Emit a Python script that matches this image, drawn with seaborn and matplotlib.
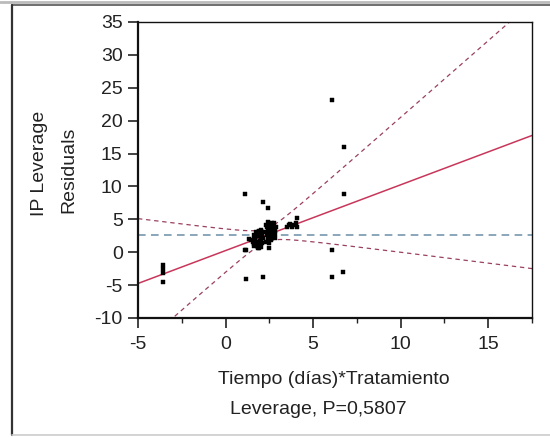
import numpy as np
import pandas as pd
import matplotlib
matplotlib.use("Agg")
import matplotlib.pyplot as plt
from matplotlib.lines import Line2D
from matplotlib.ticker import MultipleLocator
import seaborn as sns

# Leverage residual points (x: leverage of the term, y: leverage residual)
lev_x = [-3.57, -3.57, -3.57, -3.57,
         1.11, 1.34, 1.11, 1.17, 2.14, 2.43, 1.86, 2.49,
         6.09, 6.77, 6.77, 6.09, 6.09, 6.71, 1.17, 2.14,
         1.45, 1.55, 1.6, 1.65, 1.7, 1.75, 1.8, 1.85, 1.9, 1.95,
         2.0, 2.05, 2.1, 2.15, 2.2, 1.6, 1.7, 1.8, 1.9, 2.0,
         2.1, 1.75, 1.85, 1.95, 2.05, 1.65, 1.9, 2.0,
         2.3, 2.35, 2.4, 2.45, 2.5, 2.55, 2.6, 2.65, 2.7, 2.75,
         2.8, 2.85, 2.9, 2.4, 2.5, 2.6, 2.7, 2.8, 2.35, 2.45,
         2.55, 2.65, 2.75, 2.5, 2.6, 2.3, 2.45,
         3.5, 3.6, 3.7, 3.8, 3.9, 4.0, 4.09, 4.09]
lev_y = [-2.0, -2.6, -3.1, -4.5,
         8.9, 2.0, 0.3, 0.35, 7.6, 6.7, 0.65, 0.6,
         23.1, 16.0, 8.9, 0.35, -3.75, -3.0, -4.1, -3.75,
         1.9, 1.5, 2.6, 1.2, 2.2, 3.0, 1.0, 2.4, 3.3, 1.7,
         0.8, 2.9, 1.4, 2.2, 3.1, 0.9, 1.8, 2.7, 1.1, 2.0,
         2.6, 1.5, 3.0, 2.4, 1.6, 2.0, 0.7, 3.4,
         1.6, 2.6, 3.5, 2.1, 4.2, 3.0, 1.9, 3.8, 2.5, 4.4,
         3.2, 2.7, 3.9, 4.6, 1.4, 4.0, 3.3, 2.2, 3.9, 2.9,
         2.3, 4.5, 3.6, 3.4, 2.8, 4.1, 1.8,
         3.9, 4.2, 4.3, 3.8, 4.1, 4.4, 3.9, 5.2]

# Fitted leverage line and its confidence curves
x_mean = 2.35
y_mean = 2.6
fit_slope = 1.0
conf_a = 1.0
conf_b = 1.78

x_ticks = [-5, 0, 5, 10, 15]
y_ticks = [-10, -5, 0, 5, 10, 15, 20, 25, 30, 35]

sns.set_theme(style="white")
plt.rcParams["font.family"] = ["Liberation Sans", "DejaVu Sans"]
plt.rcParams["axes.unicode_minus"] = False

fig = plt.figure(figsize=(5.5, 4.37), dpi=100)
ax = fig.add_axes([138 / 550, 1 - 318 / 437, 394 / 550, 296 / 437])

df = pd.DataFrame({"x": lev_x, "y": lev_y})

xs = np.linspace(-5, 17.5, 400)
fit = y_mean + fit_slope * (xs - x_mean)
half = np.sqrt(conf_a + conf_b * (xs - x_mean) ** 2)
lines = pd.DataFrame({"x": xs, "fit": fit, "upper": fit + half,
                      "lower": fit - half, "mean": np.full_like(xs, y_mean)})

sns.lineplot(data=lines, x="x", y="mean", ax=ax, color="#6b8ea6",
             linewidth=1.1, linestyle=(0, (5, 3.5)))
sns.lineplot(data=lines, x="x", y="upper", ax=ax, color="#9a4060",
             linewidth=0.9, linestyle=(0, (3.5, 3)))
sns.lineplot(data=lines, x="x", y="lower", ax=ax, color="#9a4060",
             linewidth=0.9, linestyle=(0, (3.5, 3)))
sns.lineplot(data=lines, x="x", y="fit", ax=ax, color="#c8365a",
             linewidth=1.1)
sns.scatterplot(data=df, x="x", y="y", ax=ax, marker="s", s=9,
                color="black", edgecolor="black", linewidth=0.3, zorder=5)

ax.set_xlim(-5, 17.5)
ax.set_ylim(-10, 35)
ax.set_xticks(x_ticks)
ax.set_yticks(y_ticks)
ax.xaxis.set_minor_locator(MultipleLocator(2.5))
ax.tick_params(axis="both", which="major", direction="out", length=7,
               width=1.2, color="#222222", labelsize=14, labelcolor="#222222",
               bottom=True, left=True)
ax.tick_params(axis="y", which="major", pad=4)
ax.tick_params(axis="x", which="major", pad=6)
ax.tick_params(axis="x", which="minor", direction="out", length=3.5,
               width=1.0, color="#222222", bottom=True)
for side in ["left", "bottom"]:
    ax.spines[side].set_linewidth(1.6)
    ax.spines[side].set_color("#111111")
for side in ["top", "right"]:
    ax.spines[side].set_linewidth(1.0)
    ax.spines[side].set_color("#111111")
ax.set_xlabel("")
ax.set_ylabel("")
ax.grid(False)

fig.text(40 / 550, 1 - 163 / 437, "IP Leverage", rotation=90,
         ha="center", va="center", fontsize=14, color="#222222")
fig.text(69 / 550, 1 - 170 / 437, "Residuals", rotation=90,
         ha="center", va="center", fontsize=14, color="#222222")
fig.text(334 / 550, 1 - 380 / 437, "Tiempo (días)*Tratamiento",
         ha="center", va="center", fontsize=14, color="#222222")
fig.text(318 / 550, 1 - 410 / 437, "Leverage, P=0,5807",
         ha="center", va="center", fontsize=14, color="#222222")

# Panel frame
fig.add_artist(Line2D([12 / 550, 1], [1 - 5 / 437, 1 - 5 / 437],
                      transform=fig.transFigure, color="#555555", linewidth=1.2))
fig.add_artist(Line2D([0, 1], [1 - 1.5 / 437, 1 - 1.5 / 437],
                      transform=fig.transFigure, color="#bbbbbb", linewidth=2))
fig.add_artist(Line2D([12 / 550, 12 / 550], [1 - 5 / 437, 1 - 435 / 437],
                      transform=fig.transFigure, color="#333333", linewidth=1.6))
fig.add_artist(Line2D([12 / 550, 1], [1 - 435 / 437, 1 - 435 / 437],
                      transform=fig.transFigure, color="#cccccc", linewidth=1.2))

fig.savefig("out.png", dpi=100)
